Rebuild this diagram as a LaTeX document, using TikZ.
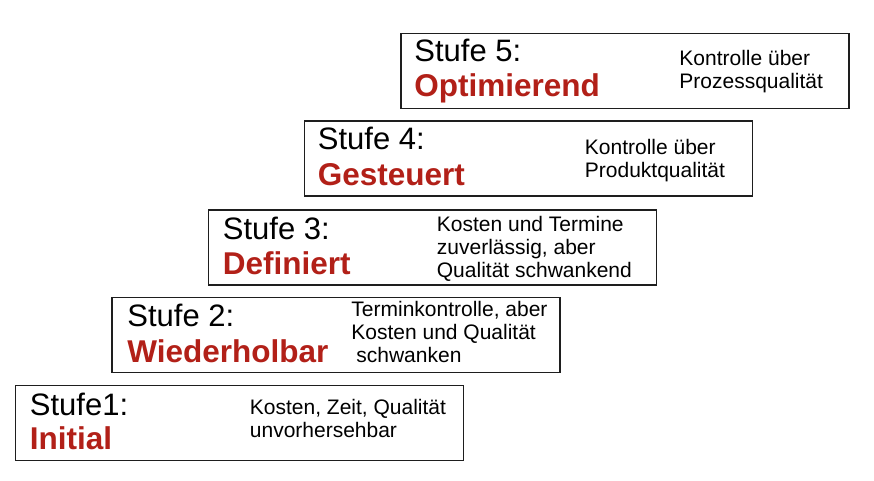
\documentclass[tikz,border=0pt]{standalone}
\usepackage{fontspec}
\setmainfont{Liberation Sans}
\usetikzlibrary{calc}
\definecolor{stufered}{RGB}{178,32,24}
\definecolor{boxline}{RGB}{30,30,30}
\tikzset{
  stufebox/.style={draw=boxline, line width=1.6pt, fill=white, rectangle,
    minimum width=448pt, minimum height=75pt, inner sep=0pt},
  stufelabel/.style={anchor=base west, inner sep=0pt, font=\fontsize{31}{35}\selectfont},
  stufename/.style={anchor=base west, inner sep=0pt, text=stufered,
    font=\fontsize{31.5}{36}\selectfont\bfseries},
  stufedesc/.style={anchor=base west, inner sep=0pt, align=left,
    font=\fontsize{21}{23}\selectfont}
}
\begin{document}
\begin{tikzpicture}[x=1pt,y=1pt]
\useasboundingbox[fill=white] (0,0) rectangle (874,480);
% boxes
\node[stufebox] (b5) at (625,409) {};
\node[stufebox] (b4) at (528.5,321.5) {};
\node[stufebox] (b3) at (432.5,232.5) {};
\node[stufebox] (b2) at (336,145) {};
\node[stufebox] (b1) at (239.5,57) {};
% Stufe 5 (multi-line descriptions are anchored at the baseline of their last line)
\node[stufelabel] (l5) at ($(b5.north west)+(14,-29)$) {Stufe 5:};
\node[stufename] (n5) at ($(b5.north west)+(14,-64)$) {Optimierend};
\node[stufedesc] (d5) at ($(b5.north west)+(279,-56)$) {Kontrolle über\\Prozessqualität};
% Stufe 4
\node[stufelabel] (l4) at ($(b4.north west)+(14,-29)$) {Stufe 4:};
\node[stufename] (n4) at ($(b4.north west)+(14,-65)$) {Gesteuert};
\node[stufedesc] (d4) at ($(b4.north west)+(281,-57)$) {Kontrolle über\\Produktqualität};
% Stufe 3
\node[stufelabel] (l3) at ($(b3.north west)+(15,-30)$) {Stufe 3:};
\node[stufename] (n3) at ($(b3.north west)+(15,-65)$) {Definiert};
\node[stufedesc] (d3) at ($(b3.north west)+(229,-68)$) {Kosten und Termine\\zuverlässig, aber\\Qualität schwankend};
% Stufe 2
\node[stufelabel] (l2) at ($(b2.north west)+(16,-30)$) {Stufe 2:};
\node[stufename] (n2) at ($(b2.north west)+(16,-66)$) {Wiederholbar};
\node[stufedesc] (d2) at ($(b2.north west)+(240,-66)$) {Terminkontrolle, aber\\Kosten und Qualität\\\hspace*{5pt}schwanken};
% Stufe 1
\node[stufelabel] (l1) at ($(b1.north west)+(15,-31)$) {Stufe1:};
\node[stufename] (n1) at ($(b1.north west)+(15,-65)$) {Initial};
\node[stufedesc] (d1) at ($(b1.north west)+(235,-53)$) {Kosten, Zeit, Qualität\\unvorhersehbar};
\end{tikzpicture}
\end{document}
